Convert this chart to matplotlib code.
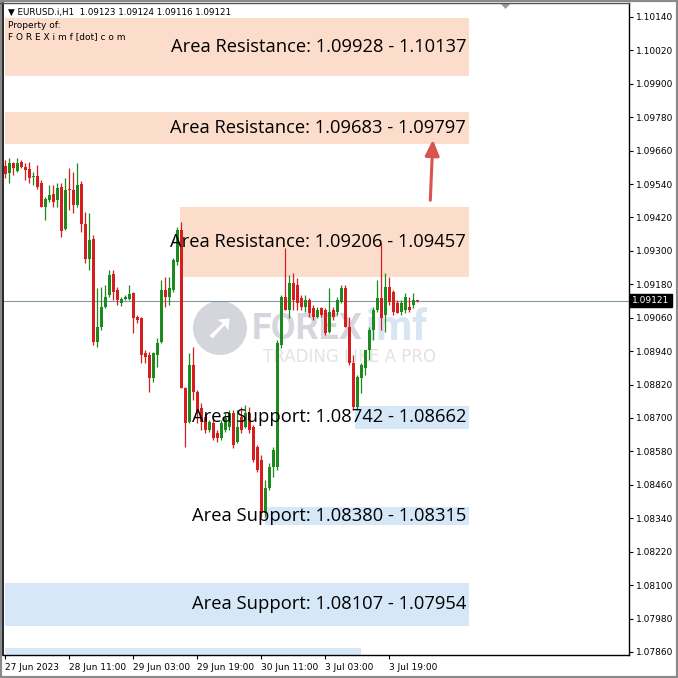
import matplotlib
matplotlib.use("Agg")
import matplotlib.pyplot as plt
from matplotlib.patches import Rectangle, Circle, FancyArrowPatch, Polygon
from matplotlib.transforms import blended_transform_factory

# EURUSD H1 candles
opens = [1.09605, 1.09580, 1.09616, 1.09587, 1.09619, 1.09602, 1.09594, 1.09566, 1.09569, 1.09544,
         1.09458, 1.09483, 1.09505, 1.09483, 1.09530, 1.09379, 1.09523, 1.09519, 1.09465, 1.09540,
         1.09397, 1.09271, 1.09343, 1.08973, 1.09027, 1.09099, 1.09142, 1.09217, 1.09160, 1.09113,
         1.09128, 1.09128, 1.09149, 1.09063, 1.09059, 1.08934, 1.08927, 1.08844, 1.08927, 1.08973,
         1.09160, 1.09135, 1.09160, 1.09260, 1.09375, 1.08808, 1.08686, 1.08891, 1.08794, 1.08736,
         1.08704, 1.08657, 1.08682, 1.08647, 1.08629, 1.08657, 1.08668, 1.08718, 1.08614, 1.08704,
         1.08668, 1.08718, 1.08668, 1.08596, 1.08550, 1.08359, 1.08449, 1.08525, 1.08525, 1.08962,
         1.09135, 1.09088, 1.09185, 1.09178, 1.09131, 1.09099, 1.09124, 1.09095, 1.09063, 1.09095,
         1.09088, 1.09009, 1.09088, 1.09081, 1.09117, 1.09167, 1.09027, 1.08898, 1.08740, 1.08844,
         1.08880, 1.08945, 1.09016, 1.09088, 1.09131, 1.09070, 1.09171, 1.09153, 1.09113, 1.09081,
         1.09088, 1.09099, 1.09106, 1.09123]
highs = [1.09627, 1.09634, 1.09619, 1.09634, 1.09627, 1.09616, 1.09619, 1.09584, 1.09609, 1.09555,
         1.09494, 1.09537, 1.09537, 1.09544, 1.09544, 1.09562, 1.09598, 1.09584, 1.09616, 1.09551,
         1.09440, 1.09436, 1.09357, 1.09167, 1.09171, 1.09178, 1.09232, 1.09232, 1.09171, 1.09135,
         1.09142, 1.09178, 1.09153, 1.09070, 1.09063, 1.08945, 1.08937, 1.08937, 1.08988, 1.09196,
         1.09207, 1.09207, 1.09275, 1.09386, 1.09404, 1.08812, 1.08934, 1.08955, 1.08801, 1.08754,
         1.08718, 1.08693, 1.08711, 1.08657, 1.08693, 1.08718, 1.08729, 1.08729, 1.08729, 1.08740,
         1.08747, 1.08740, 1.08675, 1.08603, 1.08567, 1.08478, 1.08539, 1.08596, 1.08980, 1.09142,
         1.09311, 1.09214, 1.09221, 1.09203, 1.09142, 1.09142, 1.09131, 1.09106, 1.09099, 1.09099,
         1.09095, 1.09167, 1.09099, 1.09135, 1.09178, 1.09178, 1.09063, 1.08927, 1.08855, 1.08898,
         1.08945, 1.09027, 1.09099, 1.09196, 1.09329, 1.09221, 1.09207, 1.09160, 1.09124, 1.09124,
         1.09149, 1.09135, 1.09149, 1.09124]
lows = [1.09562, 1.09544, 1.09573, 1.09584, 1.09598, 1.09555, 1.09544, 1.09537, 1.09523, 1.09458,
        1.09411, 1.09476, 1.09458, 1.09458, 1.09350, 1.09375, 1.09447, 1.09436, 1.09458, 1.09368,
        1.09257, 1.09232, 1.08962, 1.08955, 1.09016, 1.09095, 1.09135, 1.09124, 1.09106, 1.09102,
        1.09124, 1.09124, 1.09006, 1.09041, 1.08898, 1.08898, 1.08794, 1.08830, 1.08883, 1.08970,
        1.09099, 1.09106, 1.09153, 1.09250, 1.08808, 1.08596, 1.08682, 1.08765, 1.08682, 1.08657,
        1.08647, 1.08650, 1.08621, 1.08614, 1.08621, 1.08650, 1.08657, 1.08593, 1.08611, 1.08647,
        1.08665, 1.08647, 1.08542, 1.08506, 1.08345, 1.08345, 1.08442, 1.08489, 1.08514, 1.08952,
        1.09088, 1.09059, 1.09088, 1.09088, 1.09088, 1.09081, 1.09063, 1.09052, 1.09059, 1.09063,
        1.08998, 1.09006, 1.09052, 1.09070, 1.09113, 1.09027, 1.08891, 1.08729, 1.08729, 1.08790,
        1.08855, 1.08909, 1.08980, 1.09081, 1.09016, 1.09009, 1.09106, 1.09070, 1.09077, 1.09070,
        1.09077, 1.09081, 1.09095, 1.09116]
closes = [1.09576, 1.09616, 1.09598, 1.09616, 1.09602, 1.09591, 1.09562, 1.09569, 1.09530, 1.09458,
          1.09487, 1.09501, 1.09476, 1.09526, 1.09372, 1.09519, 1.09519, 1.09465, 1.09537, 1.09397,
          1.09271, 1.09339, 1.08973, 1.09027, 1.09099, 1.09135, 1.09214, 1.09153, 1.09124, 1.09128,
          1.09135, 1.09146, 1.09059, 1.09052, 1.08927, 1.08919, 1.08844, 1.08934, 1.08970, 1.09160,
          1.09135, 1.09167, 1.09268, 1.09375, 1.08808, 1.08682, 1.08891, 1.08794, 1.08718, 1.08686,
          1.08657, 1.08686, 1.08629, 1.08629, 1.08682, 1.08700, 1.08718, 1.08603, 1.08668, 1.08657,
          1.08718, 1.08657, 1.08550, 1.08514, 1.08359, 1.08449, 1.08525, 1.08586, 1.08970, 1.09135,
          1.09088, 1.09185, 1.09124, 1.09113, 1.09099, 1.09124, 1.09077, 1.09063, 1.09088, 1.09070,
          1.09006, 1.09081, 1.09063, 1.09124, 1.09167, 1.09027, 1.08898, 1.08740, 1.08848, 1.08891,
          1.08945, 1.09016, 1.09088, 1.09131, 1.09059, 1.09171, 1.09117, 1.09081, 1.09077, 1.09113,
          1.09135, 1.09088, 1.09124, 1.09121]

last_price = 1.09121
header = "EURUSD.i,H1  1.09123 1.09124 1.09116 1.09121"

price_ticks = [1.07860, 1.07980, 1.08100, 1.08220, 1.08340, 1.08460, 1.08580, 1.08700, 1.08820,
               1.08940, 1.09060, 1.09180, 1.09300, 1.09420, 1.09540, 1.09660, 1.09780, 1.09900,
               1.10020, 1.10140]
time_ticks = [0, 16, 32, 48, 64, 80, 96]
time_labels = ["27 Jun 2023", "28 Jun 11:00", "29 Jun 03:00", "29 Jun 19:00",
               "30 Jun 11:00", "3 Jul 03:00", "3 Jul 19:00"]

# zones: (first bar, last bar, low, high)
resistance_zones = [(0, 116, 1.09928, 1.10137), (0, 116, 1.09683, 1.09797), (43.75, 116, 1.09206, 1.09457)]
support_zones = [(87.5, 116, 1.08662, 1.08742), (65, 116, 1.08315, 1.08380), (0, 116, 1.07954, 1.08107)]
extra_support = (0, 89, 1.07800, 1.07874)

W = 678
fig = plt.figure(figsize=(6.78, 6.78), dpi=100)
fig.patch.set_facecolor("white")
ax = fig.add_axes([3 / W, 1 - 655 / W, 626 / W, 652 / W])
ax.set_xlim(-0.5, 156)
ax.set_ylim(1.07849, 1.10190)

res_color = "#fcdccb"
sup_color = "#d6e7f7"
for x0, x1, lo, hi in resistance_zones:
    ax.add_patch(Rectangle((x0, lo), x1 - x0, hi - lo, facecolor=res_color, edgecolor="none", zorder=0))
for x0, x1, lo, hi in support_zones + [extra_support]:
    ax.add_patch(Rectangle((x0, lo), x1 - x0, hi - lo, facecolor=sup_color, edgecolor="none", zorder=0))

# watermark
def fpx(x, y):
    return (x / W, 1 - y / W)

ax.add_patch(Circle(fpx(220, 328), 27 / W, transform=fig.transFigure, facecolor="#d4d5dd",
                    edgecolor="none", zorder=1))
ax.text(*fpx(220, 329), "\u279a", transform=fig.transFigure, fontsize=26, color="white",
        ha="center", va="center", zorder=1, family=["DejaVu Sans"])
t_forex = ax.text(*fpx(252, 329), "FOREX", transform=fig.transFigure, fontsize=26, fontweight="bold",
                  color="#d5d6de", ha="left", va="center", zorder=1, family=["Roboto", "DejaVu Sans"])
ax.annotate("imf", xy=(1.0, 0.5), xycoords=t_forex, xytext=(2, 0), textcoords="offset points",
            fontsize=30, fontweight="bold", color="#d8e5f2", ha="left", va="center", zorder=1,
            family=["Roboto", "DejaVu Sans"])
ax.text(*fpx(350, 357), "TRADING LIKE A PRO", transform=fig.transFigure, fontsize=12,
        color="#e3e3e6", ha="center", va="center", zorder=1)

ax.axhline(last_price, color="#8596a3", lw=0.8, zorder=2)

# candles
up_color = "#1c8a1c"
down_color = "#d61e1e"
idx = list(range(len(closes)))
colors = [up_color if c >= o else down_color for o, c in zip(opens, closes)]
ax.vlines(idx, lows, highs, colors=colors, lw=0.9, zorder=3)
bottoms = [min(o, c) for o, c in zip(opens, closes)]
heights = [max(abs(c - o), 0.00003) for o, c in zip(opens, closes)]
ax.bar(idx, heights, bottom=bottoms, width=0.75, color=colors, edgecolor="none", zorder=4)

# zone labels
label_font = ["Open Sans", "DejaVu Sans"]
for x0, x1, lo, hi in resistance_zones:
    ax.text(115.3, (lo + hi) / 2, f"Area Resistance: {lo:.5f} - {hi:.5f}", ha="right", va="center",
            fontsize=13.2, color="black", zorder=5, family=label_font)
for x0, x1, lo, hi in support_zones:
    ax.text(115.3, (lo + hi) / 2, f"Area Support: {hi:.5f} - {lo:.5f}", ha="right", va="center",
            fontsize=13.2, color="black", zorder=5, family=label_font)

arrow = FancyArrowPatch((106.3, 1.09472), (107.0, 1.09709), arrowstyle="-|>,head_length=9.5,head_width=4.3",
                        color="#d9534f", lw=2.2, zorder=6, mutation_scale=1)
ax.add_patch(arrow)

# axes styling like the terminal
ax.spines["top"].set_visible(False)
ax.spines["left"].set_linewidth(1.2)
ax.spines["right"].set_linewidth(1.0)
ax.spines["bottom"].set_linewidth(1.0)

ax.yaxis.tick_right()
ax.set_yticks(price_ticks)
ax.set_yticklabels([f"{p:.5f}" for p in price_ticks])
ax.tick_params(axis="y", direction="out", length=3, width=0.8, labelsize=6.5, pad=2, colors="black")
ax.set_xticks(time_ticks)
ax.set_xticklabels(time_labels)
ax.tick_params(axis="x", direction="out", length=3, width=0.8, labelsize=6.5, pad=3)
for lab in ax.get_xticklabels():
    lab.set_horizontalalignment("left")

# last price tag
tr = blended_transform_factory(ax.transAxes, ax.transData)
ax.text(1.005, last_price, f"{last_price:.5f}", transform=tr, fontsize=6.5, color="white",
        ha="left", va="center", zorder=7, clip_on=False,
        bbox=dict(boxstyle="square,pad=0.25", facecolor="black", edgecolor="black"))

# header
ax.text(*fpx(8, 12), "\u25bc " + header, transform=fig.transFigure, fontsize=6.3, ha="left", va="center",
        zorder=7, family=["DejaVu Sans"])
ax.text(*fpx(8, 25), "Property of:", transform=fig.transFigure, fontsize=6.5, ha="left", va="center", zorder=7)
ax.text(*fpx(8, 37), "F O R E X i m f [dot] c o m", transform=fig.transFigure, fontsize=6.5,
        ha="left", va="center", zorder=7)

# window frame and chart-shift marker
fig.add_artist(Rectangle((0, 0), 1, 1, transform=fig.transFigure, fill=False, edgecolor="#8a8a8a", lw=3))
fig.add_artist(Polygon([fpx(500, 3), fpx(511, 3), fpx(505.5, 9)], closed=True, transform=fig.transFigure,
                       facecolor="#9a9a9a", edgecolor="none"))
fig.add_artist(plt.Line2D([0, 629 / W], [1 - 3 / W, 1 - 3 / W], transform=fig.transFigure,
                          color="#555555", lw=1))

fig.savefig("out.png", dpi=100)
